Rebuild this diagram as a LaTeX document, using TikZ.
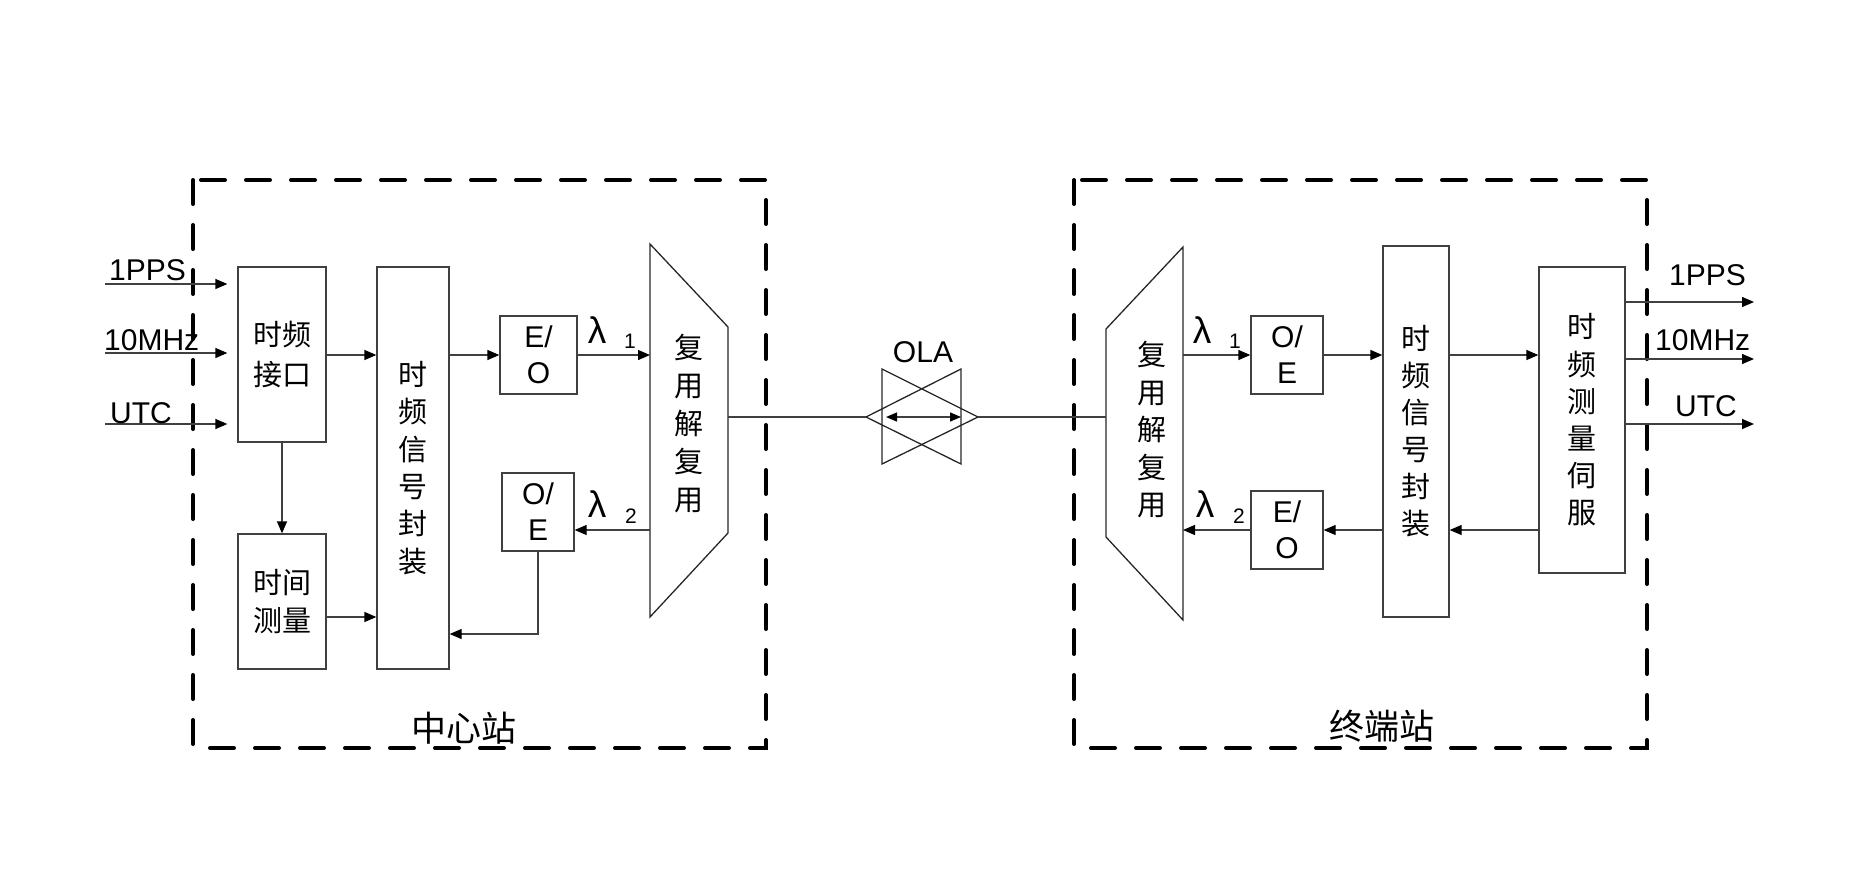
\documentclass[tikz,border=0pt]{standalone}
\usepackage{fontspec}
\setmainfont{Liberation Sans}
\newfontfamily\cjk{Noto Sans CJK SC}
\usetikzlibrary{arrows.meta}
\begin{document}
\begin{tikzpicture}[x=1pt,y=-1pt,
  ln/.style={line width=1.3pt,draw=black!75},
  arr/.style={ln,-{Triangle[length=12pt,width=10pt,color=black]}},
  darr/.style={ln,{Triangle[length=11pt,width=9pt,color=black]}-{Triangle[length=11pt,width=9pt,color=black]}},
  dashbox/.style={line width=4pt,draw=black,dash pattern=on 24pt off 21pt,line cap=round},
  box/.style={ln,rectangle,inner sep=0pt,align=center},
  cjkt/.style={font=\cjk\fontsize{29pt}{#1}\selectfont,align=center,inner sep=0pt},
  eotext/.style={font=\fontsize{30pt}{36pt}\selectfont,align=center},
  lab/.style={font=\fontsize{30pt}{36pt}\selectfont,inner sep=0pt},
  lam/.style={font=\fontsize{37pt}{37pt}\selectfont,inner sep=0pt,anchor=base},
  sub/.style={font=\fontsize{21pt}{21pt}\selectfont,inner sep=0pt,anchor=base},
  title/.style={font=\cjk\fontsize{35pt}{35pt}\selectfont,inner sep=0pt}
]
\useasboundingbox (0,0) rectangle (1857,872);

% dashed station frames
\draw[dashbox] (193,180) rectangle (766,748);
\draw[dashbox] (1074,180) rectangle (1647,748);

% level coordinates
\coordinate (yA) at (0,355);
\coordinate (yB) at (0,530);
\coordinate (yM) at (0,417);
\coordinate (yT) at (0,617);
\coordinate (yF) at (0,634);

% ---------- centre station ----------
\node[box,cjkt=40pt,minimum width=88pt,minimum height=175pt] (ti) at (282,354.5) {时频\\接口};
\node[box,cjkt=38pt,minimum width=88pt,minimum height=135pt] (tm) at (282,601.5) {时间\\测量};
\node[box,cjkt=37.4pt,minimum width=72pt,minimum height=402pt] (fzL) at (413,468) {时\\频\\信\\号\\封\\装};
\node[box,eotext,minimum width=77pt,minimum height=78pt] (eoL) at (538.5,355) {E/\\O};
\node[box,eotext,minimum width=72pt,minimum height=78pt] (oeL) at (538,512) {O/\\E};

\coordinate (mL1) at (650,244);
\coordinate (mL2) at (728,327);
\coordinate (mL3) at (728,533);
\coordinate (mL4) at (650,617);
\draw[ln,draw=black!85] (mL1) -- (mL2) -- (mL3) -- (mL4) -- cycle;
\node[cjkt=38pt] (mLt) at (689,424) {复\\用\\解\\复\\用};

% inputs
\coordinate (in1) at (105,284);
\coordinate (in2) at (105,353);
\coordinate (in3) at (105,424);
\draw[arr,shorten >=10pt] (in1) -- (in1 -| ti.west);
\draw[arr,shorten >=10pt] (in2) -- (in2 -| ti.west);
\draw[arr,shorten >=10pt] (in3) -- (in3 -| ti.west);
\node[lab,anchor=base west] (lp1) at (109,280) {1PPS};
\node[lab,anchor=base west] (lp2) at (104,350) {10MHz};
\node[lab,anchor=base west] (lp3) at (110,423) {UTC};

\draw[arr] (ti.east |- yA) -- (fzL.west |- yA);
\draw[arr] (ti.south) -- (tm.north);
\draw[arr] (tm.east |- yT) -- (fzL.west |- yT);
\draw[arr] (fzL.east |- yA) -- (eoL.west |- yA);
\draw[arr] (eoL.east |- yA) -- (mL1 |- yA);
\draw[arr] (mL1 |- yB) -- (oeL.east |- yB);
\draw[arr] (oeL.south) |- (fzL.east |- yF);

\node[lam] (l1L) at (597,343) {λ};
\node[sub] (s1L) at (630,348) {1};
\node[lam] (l2L) at (597,517) {λ};
\node[sub] (s2L) at (631,523) {2};

\node[title] (cz) at (464,728) {中心站};

% ---------- OLA ----------
\coordinate (olaL) at (866,417);
\coordinate (olaR) at (978,417);
\draw[ln,draw=black!85] (882,369) -- (882,464) -- (olaR) -- cycle;
\draw[ln,draw=black!85] (961,369) -- (961,464) -- (olaL) -- cycle;
\coordinate (oa1) at (886,417);
\coordinate (oa2) at (961,417);
\draw[darr] (oa1) -- (oa2);
\node[lab] (olat) at (923,352) {OLA};
\draw[ln] (mL2 |- yM) -- (olaL);

% ---------- terminal station ----------
\coordinate (mR1) at (1183,247);
\coordinate (mR2) at (1106,329);
\coordinate (mR3) at (1106,537);
\coordinate (mR4) at (1183,620);
\draw[ln,draw=black!85] (mR1) -- (mR2) -- (mR3) -- (mR4) -- cycle;
\node[cjkt=37.5pt] (mRt) at (1152,430) {复\\用\\解\\复\\用};
\draw[ln] (olaR) -- (mR2 |- yM);

\node[box,eotext,minimum width=72pt,minimum height=78pt] (oeR) at (1287,355) {O/\\E};
\node[box,eotext,minimum width=72pt,minimum height=78pt] (eoR) at (1287,530) {E/\\O};
\node[box,cjkt=37pt,minimum width=66pt,minimum height=371pt] (fzR) at (1416,431.5) {时\\频\\信\\号\\封\\装};
\node[box,cjkt=37.2pt,minimum width=86pt,minimum height=306pt] (sv) at (1582,420) {时\\频\\测\\量\\伺\\服};

\draw[arr] (mR1 |- yA) -- (oeR.west |- yA);
\draw[arr] (oeR.east |- yA) -- (fzR.west |- yA);
\draw[arr] (fzR.east |- yA) -- (sv.west |- yA);
\draw[arr] (sv.west |- yB) -- (fzR.east |- yB);
\draw[arr] (fzR.west |- yB) -- (eoR.east |- yB);
\draw[arr] (eoR.west |- yB) -- (mR1 |- yB);

\node[lam] (l1R) at (1202,343) {λ};
\node[sub] (s1R) at (1235,348) {1};
\node[lam] (l2R) at (1205,517) {λ};
\node[sub] (s2R) at (1239,523) {2};

% outputs
\coordinate (out1) at (1754,302);
\coordinate (out2) at (1754,359);
\coordinate (out3) at (1754,424);
\draw[arr] (sv.east |- out1) -- (out1);
\draw[arr] (sv.east |- out2) -- (out2);
\draw[arr] (sv.east |- out3) -- (out3);
\node[lab,anchor=base west] (rp1) at (1669,285) {1PPS};
\node[lab,anchor=base west] (rp2) at (1655,350) {10MHz};
\node[lab,anchor=base west] (rp3) at (1675,416) {UTC};

\node[title] (zd) at (1382,726) {终端站};
\end{tikzpicture}
\end{document}
